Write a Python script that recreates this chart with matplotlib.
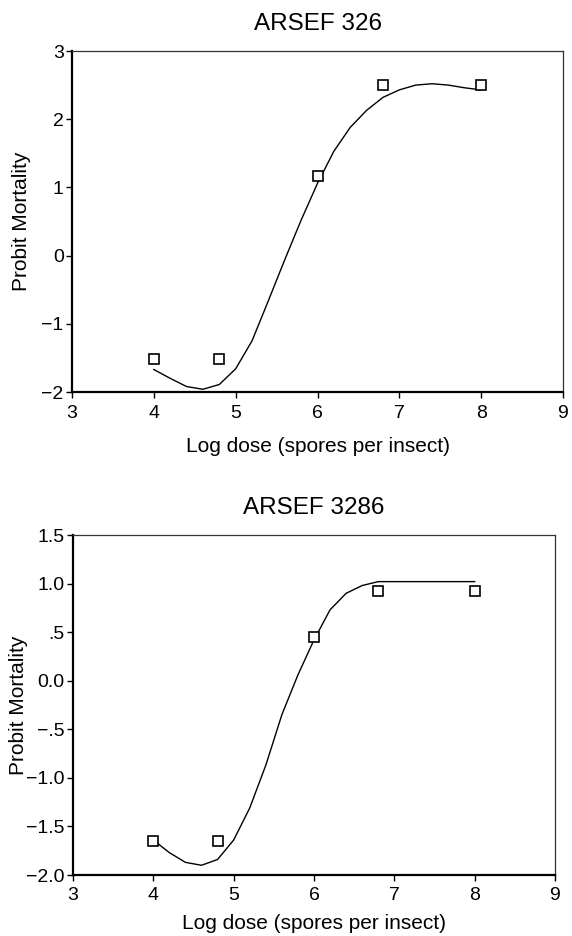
import matplotlib

matplotlib.use("Agg")
import matplotlib.pyplot as plt

plt.rcParams["font.family"] = ["Liberation Sans", "DejaVu Sans"]

# ARSEF 326 - observed points and fitted curve
obs_x_326 = [4.0, 4.8, 6.0, 6.8, 8.0]
obs_y_326 = [-1.52, -1.52, 1.16, 2.50, 2.50]
fit_x_326 = [4.0, 4.2, 4.4, 4.6, 4.8, 5.0, 5.2, 5.4, 5.6, 5.8, 6.0, 6.2, 6.4, 6.6, 6.8, 7.0, 7.2, 7.4, 7.6, 7.8, 8.0]
fit_y_326 = [-1.67, -1.80, -1.92, -1.96, -1.89, -1.66, -1.25, -0.66, -0.06, 0.52, 1.06, 1.53, 1.88, 2.13, 2.32, 2.43, 2.50, 2.52, 2.50, 2.46, 2.43]

# ARSEF 3286
obs_x_3286 = [4.0, 4.8, 6.0, 6.8, 8.0]
obs_y_3286 = [-1.65, -1.65, 0.45, 0.92, 0.92]
fit_x_3286 = [4.0, 4.2, 4.4, 4.6, 4.8, 5.0, 5.2, 5.4, 5.6, 5.8, 6.0, 6.2, 6.4, 6.6, 6.8, 7.0, 7.2, 7.4, 7.6, 7.8, 8.0]
fit_y_3286 = [-1.64, -1.77, -1.87, -1.90, -1.84, -1.64, -1.31, -0.87, -0.35, 0.06, 0.42, 0.73, 0.90, 0.98, 1.02, 1.02, 1.02, 1.02, 1.02, 1.02, 1.02]

x_ticks = [3, 4, 5, 6, 7, 8, 9]
y_ticks_326 = [-2, -1, 0, 1, 2, 3]
y_labels_326 = ["\u22122", "\u22121", "0", "1", "2", "3"]
y_ticks_3286 = [-2.0, -1.5, -1.0, -0.5, 0.0, 0.5, 1.0, 1.5]
y_labels_3286 = ["\u22122.0", "\u22121.5", "\u22121.0", "\u2212.5", "0.0", ".5", "1.0", "1.5"]

W, H = 572, 936
fig = plt.figure(figsize=(W / 100, H / 100), dpi=100)


def panel(rect, title, ox, oy, fx, fy, yt, yl, ylim, xlabelpad, ylab_x):
    l, t, r, b = rect
    ax = fig.add_axes([l / W, 1 - b / H, (r - l) / W, (b - t) / H])
    ax.plot(fx, fy, color="black", lw=1.0)
    ax.plot(ox, oy, ls="none", marker="s", ms=6.5, mfc="white", mec="black", mew=1.2)
    ax.set_xlim(3, 9)
    ax.set_ylim(*ylim)
    ax.set_xticks(x_ticks)
    ax.set_yticks(yt)
    ax.set_yticklabels(yl)
    ax.tick_params(direction="out", length=4, width=1, labelsize=14, pad=2)
    ax.tick_params(axis="x", pad=5)
    for s in ("left", "bottom"):
        ax.spines[s].set_linewidth(1.6)
    for s in ("top", "right"):
        ax.spines[s].set_linewidth(0.9)
        ax.spines[s].set_color("#333333")
    ax.set_title(title, fontsize=17.5, pad=15)
    ax.set_xlabel("Log dose (spores per insect)", fontsize=15, labelpad=xlabelpad)
    ax.set_ylabel("Probit Mortality", fontsize=15)
    ax.yaxis.set_label_coords((ylab_x - l) / (r - l), 0.5)
    return ax


panel((72, 51, 563, 392), "ARSEF 326", obs_x_326, obs_y_326, fit_x_326, fit_y_326,
      y_ticks_326, y_labels_326, (-2, 3), 11, 31)
panel((73, 535, 555, 875), "ARSEF 3286", obs_x_3286, obs_y_3286, fit_x_3286, fit_y_3286,
      y_ticks_3286, y_labels_3286, (-2, 1.5), 7, 28)

fig.savefig("out.png", dpi=100)
